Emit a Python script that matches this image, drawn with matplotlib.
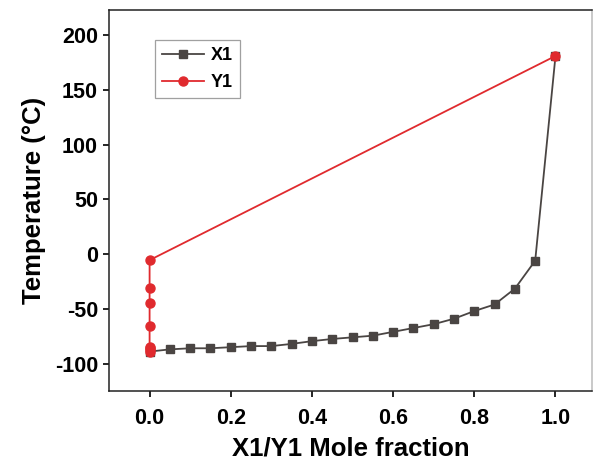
import numpy as np
import matplotlib.pyplot as plt

plt.rcParams['font.family'] = ['Liberation Sans', 'DejaVu Sans']
plt.rcParams['font.weight'] = 'bold'
plt.rcParams['axes.unicode_minus'] = False

# liquid phase mole fraction X1 and temperature (°C)
x1 = [0.0, 0.05, 0.10, 0.15, 0.20, 0.25, 0.30, 0.35, 0.40, 0.45, 0.50,
      0.55, 0.60, 0.65, 0.70, 0.75, 0.80, 0.85, 0.90, 0.95, 1.0]
t_x1 = [-89, -87, -86, -86, -85, -84, -84, -82, -79.5, -77.5, -76,
        -74.5, -71, -67.5, -64, -59, -52, -46, -31.5, -6, 181]

# vapour phase mole fraction Y1 and temperature (°C)
y1 = [0.0, 0.0, 0.0, 0.0, 0.0, 0.0, 0.0, 0.0, 1.0]
t_y1 = [-89, -87.5, -86, -84.5, -65.5, -45, -31, -5.5, 181]

dark = '#4a4543'
red = '#e02a2e'

fig = plt.figure(figsize=(5.95, 4.66), dpi=100)
ax = fig.add_axes([0.1832, 0.161, 0.8118, 0.8176])

ax.plot(x1, t_x1, color=dark, lw=1.3, marker='s', ms=5.2, label='X1')
ax.plot(y1, t_y1, color=red, lw=1.3, marker='o', ms=6.5, label='Y1')

ax.set_xlim(-0.1, 1.09)
ax.set_ylim(-125, 223)
ax.set_xticks([0.0, 0.2, 0.4, 0.6, 0.8, 1.0])
ax.set_yticks([-100, -50, 0, 50, 100, 150, 200])
ax.tick_params(direction='out', length=4, width=1.2, labelsize=15.5, pad=4)
ax.xaxis.set_tick_params(pad=8)

for s in ax.spines.values():
    s.set_linewidth(1.1)
    s.set_color('#222222')
ax.spines['right'].set_color('#bbbbbb')

ax.set_xlabel('X1/Y1 Mole fraction', fontsize=18.5, fontweight='bold', labelpad=6)
ax.set_ylabel('Temperature (°C)', fontsize=18.5, fontweight='bold', labelpad=6)

leg = ax.legend(loc='upper left', bbox_to_anchor=(0.095, 0.921), fontsize=13,
                frameon=True, fancybox=False, edgecolor='#888888',
                handlelength=2.3, borderpad=0.4, labelspacing=0.55,
                handletextpad=0.4, borderaxespad=0)
leg.get_frame().set_linewidth(0.9)

plt.savefig('out.png', dpi=100)
